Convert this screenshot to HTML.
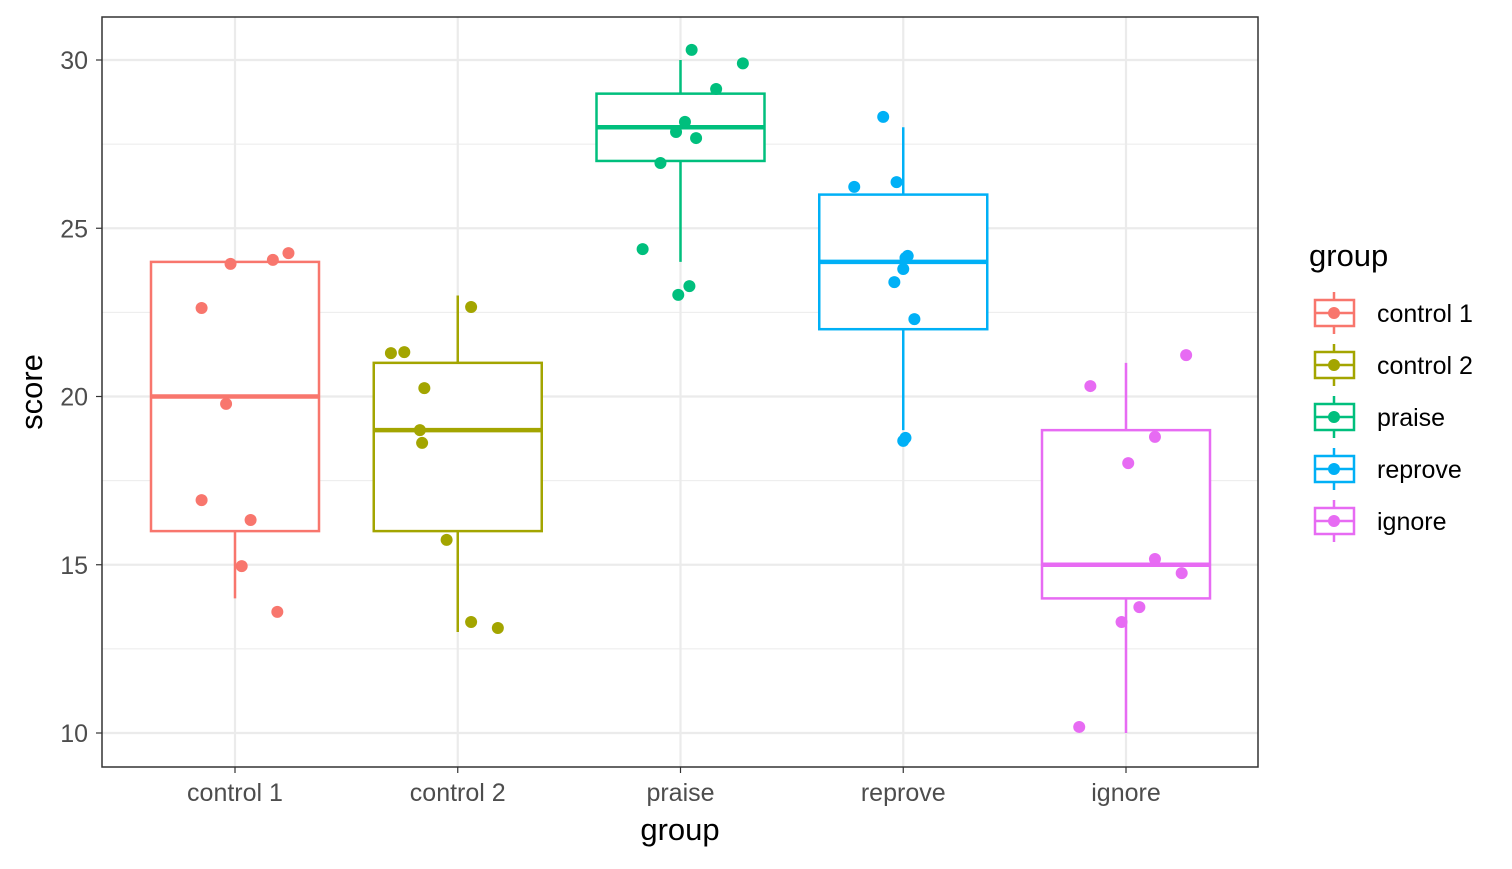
<!DOCTYPE html>
<html><head><meta charset="utf-8"><style>
body{margin:0;background:#fff;font-family:"Liberation Sans",sans-serif}
</style></head><body>
<svg id="c" width="1512" height="864" xmlns="http://www.w3.org/2000/svg"></svg>
<script>
const categories=["control 1","control 2","praise","reprove","ignore"];
const colors=["#F8766D","#A3A500","#00BF7D","#00B0F6","#E76BF3"];
const q1=[16,16,27,22,14];
const med=[20,19,28,24,15];
const q3=[24,21,29,26,19];
const wlo=[14,13,24,19,10];
const whi=[24,23,30,28,21];
const yTicks=[10,15,20,25,30];
const pts=[
 [22.63,23.94,24.06,24.26,19.78,16.92,16.33,14.96,13.6],
 [22.66,21.29,21.32,20.25,19.0,18.62,15.74,13.3,13.12],
 [30.3,29.9,29.14,28.16,27.86,27.68,26.94,24.38,23.28,23.02],
 [28.31,26.23,26.37,24.18,24.12,23.79,23.4,22.3,18.77,18.68],
 [21.23,20.31,18.8,18.02,15.17,14.75,13.74,13.3,10.18]];
const jit=[
 [-0.15,-0.02,0.17,0.24,-0.04,-0.15,0.07,0.03,0.19],
 [0.06,-0.3,-0.24,-0.15,-0.17,-0.16,-0.05,0.06,0.18],
 [0.05,0.28,0.16,0.02,-0.02,0.07,-0.09,-0.17,0.04,-0.01],
 [-0.09,-0.22,-0.03,0.02,0.01,0,-0.04,0.05,0.01,0],
 [0.27,-0.16,0.13,0.01,0.13,0.25,0.06,-0.02,-0.21]];
const L=102,R=1258,T=17,B=767;
const y=v=>733-(v-10)*33.65;
const x=i=>235+i*222.75;
const S=document.getElementById('c');const NS="http://www.w3.org/2000/svg";
function mk(t,a,p){const e=document.createElementNS(NS,t);for(const k in a)e.setAttribute(k,a[k]);(p||S).appendChild(e);return e;}
mk('rect',{x:L,y:T,width:R-L,height:B-T,fill:'#fff'});
for(let v=7.5;v<=32.5;v+=5){if(y(v)>T&&y(v)<B){const g=mk('line',{x1:L,x2:R,y1:y(v),y2:y(v),stroke:'#EBEBEB','stroke-width':1});}}
yTicks.forEach(v=>{const g=mk('line',{x1:L,x2:R,y1:y(v),y2:y(v),stroke:'#EBEBEB','stroke-width':2.2});
 mk('line',{x1:L-6,x2:L,y1:y(v),y2:y(v),stroke:'#333','stroke-width':1.2});
 const t=mk('text',{x:L-14,y:y(v)+9,'text-anchor':'end','font-size':25,fill:'#4D4D4D'});t.textContent=v;
 });
categories.forEach((c,i)=>{mk('line',{x1:x(i),x2:x(i),y1:T,y2:B,stroke:'#EBEBEB','stroke-width':2.2});
 mk('line',{x1:x(i),x2:x(i),y1:B,y2:B+6,stroke:'#333','stroke-width':1.2});
 const t=mk('text',{x:x(i),y:B+34,'text-anchor':'middle','font-size':25,fill:'#4D4D4D'});t.textContent=c;
 });
categories.forEach((c,i)=>{const col=colors[i];const g=mk('g',{});
 
 mk('line',{x1:x(i),x2:x(i),y1:y(q3[i]),y2:y(whi[i]),stroke:col,'stroke-width':2.5},g);
 mk('line',{x1:x(i),x2:x(i),y1:y(q1[i]),y2:y(wlo[i]),stroke:col,'stroke-width':2.5},g);
 mk('rect',{x:x(i)-84,y:y(q3[i]),width:168,height:y(q1[i])-y(q3[i]),fill:'#fff',stroke:col,'stroke-width':2.5},g);
 mk('line',{x1:x(i)-84,x2:x(i)+84,y1:y(med[i]),y2:y(med[i]),stroke:col,'stroke-width':4.5},g);
 pts[i].forEach((v,j)=>{const p=mk('circle',{cx:x(i)+jit[i][j]*222.75,cy:y(v),r:6,fill:col});
  });});
mk('rect',{x:L,y:T,width:R-L,height:B-T,fill:'none',stroke:'#333','stroke-width':1.5});
let t=mk('text',{x:680,y:840,'text-anchor':'middle','font-size':31,fill:'#000'});t.textContent='group';

t=mk('text',{x:42,y:392,'text-anchor':'middle','font-size':31,fill:'#000',transform:'rotate(-90 42 392)'});t.textContent='score';

t=mk('text',{x:1309,y:266,'font-size':31,fill:'#000'});t.textContent='group';

categories.forEach((c,i)=>{const cy=313+i*52;const g=mk('g',{});
 
 mk('line',{x1:1334,x2:1334,y1:cy-21,y2:cy+21,stroke:colors[i],'stroke-width':2.5},g);
 mk('rect',{x:1315,y:cy-13,width:39,height:26,fill:'#fff',stroke:colors[i],'stroke-width':2.5},g);
 mk('line',{x1:1315,x2:1354,y1:cy,y2:cy,stroke:colors[i],'stroke-width':2.5},g);
 mk('circle',{cx:1334,cy:cy,r:6,fill:colors[i]},g);
 const tt=mk('text',{x:1377,y:cy+9,'font-size':25,fill:'#000'},g);tt.textContent=c;});
</script></body></html>
